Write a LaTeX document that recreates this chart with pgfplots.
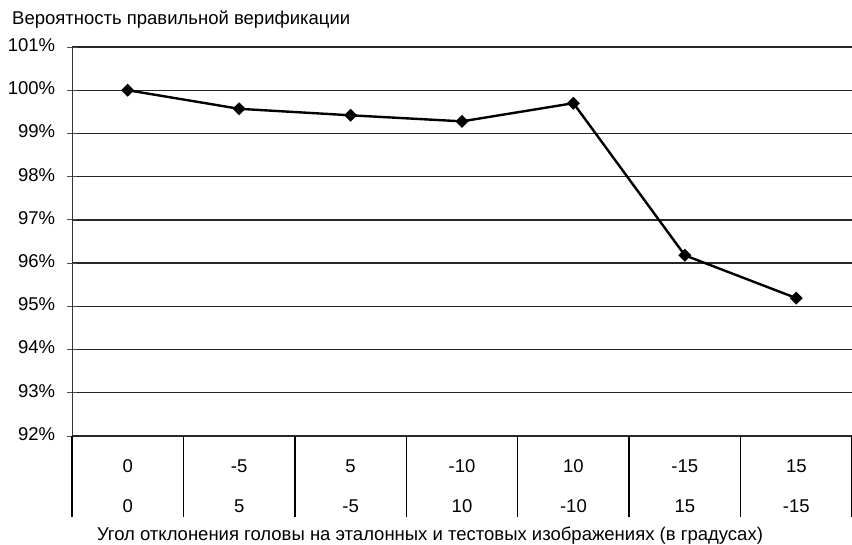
\documentclass[border=0pt]{standalone}
\usepackage{fontspec}
\setmainfont{Liberation Sans}
\usepackage{pgfplots}
\pgfplotsset{compat=1.18}
\begin{document}
\fontsize{18.5}{22}\selectfont
\begin{tikzpicture}
\begin{axis}[
    scale only axis,
    width=780pt, height=389pt,
    xmin=-0.5, xmax=6.5,
    ymin=92, ymax=101,
    axis x line*=bottom,
    axis y line*=left,
    axis line style={-},
    x axis line style={black!85, line width=1.3pt},
    y axis line style={black!80, line width=0.9pt},
    xtick align=outside,
    ytick align=center,
    major tick length=9pt,
    xtick={0,...,6},
    xticklabels={0\\0, -5\\5, 5\\-5, -10\\10, 10\\-10, -15\\15, 15\\-15},
    typeset ticklabels with strut,
    x tick label style={align=center, anchor=north, inner sep=0pt,
        font=\fontsize{18.5}{40}\selectfont, yshift=1pt},
    major x tick style={draw=none},
    extra x ticks={-0.5,0.5,1.5,2.5,3.5,4.5,5.5,6.5},
    extra x tick labels={},
    extra x tick style={major tick length=81pt,
        major x tick style={draw=black, line width=1.3pt}},
    ytick={92,...,101},
    yticklabels={92\%,93\%,94\%,95\%,96\%,97\%,98\%,99\%,100\%,101\%},
    y tick label style={font=\fontsize{18.5}{22}\selectfont, xshift=-6pt},
    major y tick style={black!70, line width=0.8pt},
    ymajorgrids,
    grid style={black!85, line width=1.3pt},
    clip=false,
]
\addplot[black, line width=2.4pt, mark=square*, mark size=3.4pt,
    mark options={rotate=45}] coordinates {
    (0,100.00)
    (1,99.57)
    (2,99.42)
    (3,99.28)
    (4,99.70)
    (5,96.18)
    (6,95.19)
};
\coordinate (a) at (rel axis cs:0,0);
\coordinate (b) at (rel axis cs:1,1);
\node[anchor=base west, inner sep=0pt] at ([xshift=-60pt,yshift=22.5pt]b -| a)
    {Вероятность правильной верификации};
\node[anchor=base, inner sep=0pt] at ([xshift=-32pt,yshift=-104pt]rel axis cs:0.5,0)
    {Угол отклонения головы на эталонных и тестовых изображениях (в градусах)};
\end{axis}
\pgfresetboundingbox
\path ([xshift=-72pt,yshift=-108pt]a) rectangle ([yshift=47pt]b);
\end{tikzpicture}
\end{document}
